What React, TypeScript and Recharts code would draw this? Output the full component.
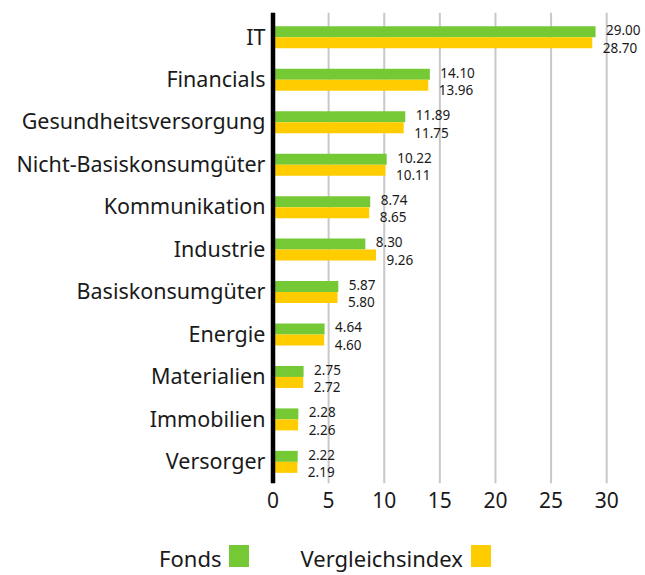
import React from 'react';
import { BarChart, Bar, XAxis, YAxis, CartesianGrid, LabelList, Legend } from 'recharts';

const categories = ['IT', 'Financials', 'Gesundheitsversorgung', 'Nicht-Basiskonsumgüter', 'Kommunikation', 'Industrie', 'Basiskonsumgüter', 'Energie', 'Materialien', 'Immobilien', 'Versorger'];
const fonds = [29.0, 14.1, 11.89, 10.22, 8.74, 8.3, 5.87, 4.64, 2.75, 2.28, 2.22];
const vergleichsindex = [28.7, 13.96, 11.75, 10.11, 8.65, 9.26, 5.8, 4.6, 2.72, 2.26, 2.19];
const xTicks = [0, 5, 10, 15, 20, 25, 30];
const seriesNames = ['Fonds', 'Vergleichsindex'];

const data = categories.map((name, i) => ({ name, fonds: fonds[i], index: vergleichsindex[i] }));

const FONT = '"Noto Sans", sans-serif';
const GREEN = '#74C935';
const YELLOW = '#FFCC00';
const TEXT = '#1a1a1a';

const makeLabel = (dx: number, dy: number) => (props: any) => {
  const { x, y, width, height, value } = props;
  return (
    <text x={x + width + dx} y={y + height / 2 + dy} dominantBaseline="central" fontSize={13.5} fill={TEXT} fontFamily={FONT}>
      {Number(value).toFixed(2)}
    </text>
  );
};

const LegendContent = () => (
  <div style={{ display: 'flex', justifyContent: 'center', alignItems: 'flex-start', fontFamily: FONT, fontSize: 22, color: TEXT, height: 26, lineHeight: '26px', paddingLeft: 5, boxSizing: 'border-box' }}>
    <span>{seriesNames[0]}</span>
    <span style={{ display: 'inline-block', width: 20, height: 22, background: GREEN, marginLeft: 8, marginRight: 51 }} />
    <span>{seriesNames[1]}</span>
    <span style={{ display: 'inline-block', width: 20, height: 22, background: YELLOW, marginLeft: 8 }} />
  </div>
);

export default function App() {
  return (
    <div style={{ position: 'absolute', left: 0, top: 0, background: '#fff' }}>
      <BarChart
        width={645}
        height={575}
        data={data}
        layout="vertical"
        margin={{ top: 12.7, right: 38.3, left: 0, bottom: 0 }}
        barCategoryGap="25%"
        barGap={0}
      >
        <CartesianGrid horizontal={false} stroke="#c8c8c8" strokeWidth={2} />
        <XAxis
          type="number"
          domain={[0, 30]}
          ticks={xTicks}
          axisLine={false}
          tickLine={false}
          height={65.7}
          tick={{ fontSize: 21, fill: TEXT, fontFamily: FONT }}
          tickMargin={4}
        />
        <YAxis
          type="category"
          dataKey="name"
          width={273}
          padding={{ top: 3, bottom: 0.6 }}
          axisLine={{ stroke: '#000', strokeWidth: 4.5 }}
          tickLine={false}
          tickMargin={1.5}
          tick={{ fontSize: 21.5, fill: TEXT, fontFamily: FONT }}
          interval={0}
        />
        <Legend verticalAlign="bottom" height={26} wrapperStyle={{ left: 0, width: 645, bottom: 4 }} content={<LegendContent />} />
        <Bar dataKey="fonds" name={seriesNames[0]} fill={GREEN} isAnimationActive={false}>
          <LabelList dataKey="fonds" content={makeLabel(10.5, -1.6)} />
        </Bar>
        <Bar dataKey="index" name={seriesNames[1]} fill={YELLOW} isAnimationActive={false}>
          <LabelList dataKey="index" content={makeLabel(10.5, 4.8)} />
        </Bar>
      </BarChart>
    </div>
  );
}
